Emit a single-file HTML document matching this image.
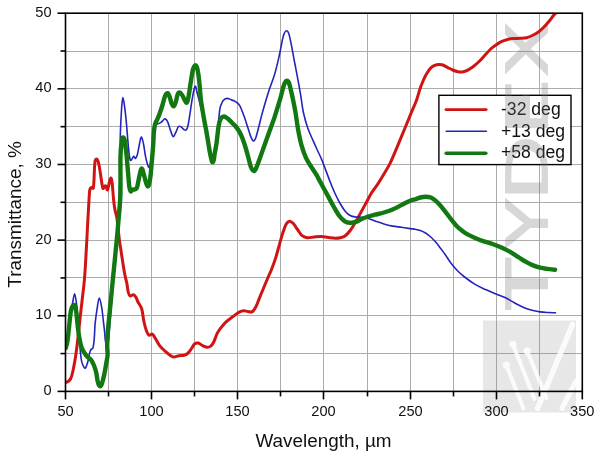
<!DOCTYPE html><html><head><meta charset="utf-8"><style>html,body{margin:0;padding:0;background:#fff;width:600px;height:456px;overflow:hidden}svg{display:block}text{font-family:"Liberation Sans",Arial,sans-serif}</style></head><body>
<svg width="600" height="456" viewBox="0 0 600 456">
<rect width="600" height="456" fill="#fff"/>
<defs><clipPath id="eclip" clipPathUnits="userSpaceOnUse"><path clip-rule="evenodd" d="M480,60H590V140H480Z M517,70H536V95H517Z"/></clipPath></defs>
<defs><clipPath id="pc"><rect x="65.50" y="13.20" width="516.80" height="378.20"/></clipPath></defs>
<g stroke="#acacac" stroke-width="1"><line x1="108.50" y1="13.20" x2="108.50" y2="391.40"/><line x1="151.50" y1="13.20" x2="151.50" y2="391.40"/><line x1="194.50" y1="13.20" x2="194.50" y2="391.40"/><line x1="237.50" y1="13.20" x2="237.50" y2="391.40"/><line x1="280.50" y1="13.20" x2="280.50" y2="391.40"/><line x1="323.50" y1="13.20" x2="323.50" y2="391.40"/><line x1="367.50" y1="13.20" x2="367.50" y2="391.40"/><line x1="410.50" y1="13.20" x2="410.50" y2="391.40"/><line x1="453.50" y1="13.20" x2="453.50" y2="391.40"/><line x1="496.50" y1="13.20" x2="496.50" y2="391.40"/><line x1="539.50" y1="13.20" x2="539.50" y2="391.40"/><line x1="65.50" y1="353.50" x2="582.30" y2="353.50"/><line x1="65.50" y1="315.50" x2="582.30" y2="315.50"/><line x1="65.50" y1="277.50" x2="582.30" y2="277.50"/><line x1="65.50" y1="240.50" x2="582.30" y2="240.50"/><line x1="65.50" y1="202.50" x2="582.30" y2="202.50"/><line x1="65.50" y1="164.50" x2="582.30" y2="164.50"/><line x1="65.50" y1="126.50" x2="582.30" y2="126.50"/><line x1="65.50" y1="88.50" x2="582.30" y2="88.50"/><line x1="65.50" y1="51.50" x2="582.30" y2="51.50"/></g>
<rect x="438.9" y="95.3" width="132.1" height="69.3" fill="#fff" stroke="#000" stroke-width="1.4"/>
<line x1="446" y1="109.6" x2="486.2" y2="109.6" stroke="#d01414" stroke-width="2.8" stroke-linecap="round"/>
<line x1="446.2" y1="131.2" x2="486.4" y2="131.2" stroke="#2424bc" stroke-width="1.6" stroke-linecap="round"/>
<line x1="446.2" y1="153.3" x2="485.8" y2="153.3" stroke="#127812" stroke-width="3.6" stroke-linecap="round"/>
<g font-size="17.6" fill="#111"><text x="501" y="115.4">-32 deg</text><text x="501" y="136.8">+13 deg</text><text x="501" y="158.2">+58 deg</text></g>
<g opacity="0.29" fill="#787878" stroke="#787878" stroke-width="3.20" stroke-linejoin="miter" font-size="100"><text transform="translate(547.06,310.53) rotate(-90) scale(0.8794,0.5903)">T</text><text transform="translate(547.06,248.45) rotate(-90) scale(0.7554,0.5903)">Y</text><text transform="translate(547.06,199.27) rotate(-90) scale(0.8748,0.5903)">D</text><g clip-path="url(#eclip)"><text transform="translate(547.06,133.21) rotate(-90) scale(0.7888,0.5903)">E</text></g><text transform="translate(547.06,75.56) rotate(-90) scale(0.7982,0.5903)">X</text><rect x="505.4" y="96" width="24.6" height="23" stroke="none"/></g><rect x="483" y="320.5" width="93" height="92" fill="#888" opacity="0.2"/><g stroke="#fff" stroke-linecap="round" fill="#fff" opacity="0.85"><line x1="572.5" y1="324.5" x2="537.5" y2="408.5" stroke-width="5.5"/><line x1="576" y1="381" x2="562" y2="408.5" stroke-width="5"/><line x1="512.9" y1="344.3" x2="534.5" y2="399.0" stroke-width="4"/><line x1="506.3" y1="365.1" x2="523.5" y2="408.5" stroke-width="4"/><line x1="527.1" y1="350.9" x2="546.5" y2="398.0" stroke-width="4"/><circle cx="512.9" cy="344.3" r="3.2"/><circle cx="527.1" cy="350.9" r="3.2"/><circle cx="506.3" cy="365.1" r="3.2"/></g>
<path clip-path="url(#pc)" d="M65.80,382.50 C66.17,382.33 67.22,382.08 68.00,381.50 C68.78,380.92 69.75,380.42 70.50,379.00 C71.25,377.58 71.87,375.50 72.50,373.00 C73.13,370.50 73.80,366.67 74.30,364.00 C74.80,361.33 75.05,360.00 75.50,357.00 C75.95,354.00 76.50,350.00 77.00,346.00 C77.50,342.00 78.05,337.00 78.50,333.00 C78.95,329.00 79.28,325.83 79.70,322.00 C80.12,318.17 80.53,314.17 81.00,310.00 C81.47,305.83 82.00,301.33 82.50,297.00 C83.00,292.67 83.58,288.17 84.00,284.00 C84.42,279.83 84.67,276.83 85.00,272.00 C85.33,267.17 85.70,260.25 86.00,255.00 C86.30,249.75 86.53,245.50 86.80,240.50 C87.07,235.50 87.37,229.42 87.60,225.00 C87.83,220.58 87.97,218.17 88.20,214.00 C88.43,209.83 88.77,203.83 89.00,200.00 C89.23,196.17 89.35,193.00 89.60,191.00 C89.85,189.00 90.10,188.58 90.50,188.00 C90.90,187.42 91.53,187.50 92.00,187.50 C92.47,187.50 92.97,189.25 93.30,188.00 C93.63,186.75 93.80,183.33 94.00,180.00 C94.20,176.67 94.30,171.25 94.50,168.00 C94.70,164.75 94.87,162.00 95.20,160.50 C95.53,159.00 96.07,159.00 96.50,159.00 C96.93,159.00 97.38,159.50 97.80,160.50 C98.22,161.50 98.55,162.75 99.00,165.00 C99.45,167.25 100.03,171.00 100.50,174.00 C100.97,177.00 101.38,180.58 101.80,183.00 C102.22,185.42 102.55,187.97 103.00,188.50 C103.45,189.03 104.00,186.57 104.50,186.20 C105.00,185.83 105.48,185.67 106.00,186.30 C106.52,186.93 107.07,190.55 107.60,190.00 C108.13,189.45 108.67,185.00 109.20,183.00 C109.73,181.00 110.33,178.17 110.80,178.00 C111.27,177.83 111.67,180.00 112.00,182.00 C112.33,184.00 112.53,187.00 112.80,190.00 C113.07,193.00 113.25,196.75 113.60,200.00 C113.95,203.25 114.37,206.60 114.90,209.50 C115.43,212.40 116.25,214.12 116.80,217.40 C117.35,220.68 117.75,225.27 118.20,229.20 C118.65,233.13 119.05,237.53 119.50,241.00 C119.95,244.47 120.33,246.30 120.90,250.00 C121.47,253.70 122.23,259.03 122.90,263.20 C123.57,267.37 124.25,271.70 124.90,275.00 C125.55,278.30 126.25,280.17 126.80,283.00 C127.35,285.83 127.65,289.83 128.20,292.00 C128.75,294.17 129.23,295.55 130.10,296.00 C130.97,296.45 132.42,294.47 133.40,294.70 C134.38,294.93 135.23,296.18 136.00,297.40 C136.77,298.62 137.05,300.10 138.00,302.00 C138.95,303.90 140.73,305.63 141.70,308.80 C142.67,311.97 143.02,317.35 143.80,321.00 C144.58,324.65 145.53,328.35 146.40,330.70 C147.27,333.05 147.98,334.52 149.00,335.10 C150.02,335.68 151.33,333.47 152.50,334.20 C153.67,334.93 154.82,337.60 156.00,339.50 C157.18,341.40 158.13,343.70 159.60,345.60 C161.07,347.50 163.05,349.28 164.80,350.90 C166.55,352.52 168.63,354.28 170.10,355.30 C171.57,356.32 172.13,356.92 173.60,357.00 C175.07,357.08 177.15,356.08 178.90,355.80 C180.65,355.52 182.65,355.68 184.10,355.30 C185.55,354.92 186.43,354.53 187.60,353.50 C188.77,352.47 189.93,350.70 191.10,349.10 C192.27,347.50 193.42,344.92 194.60,343.90 C195.78,342.88 196.88,342.72 198.20,343.00 C199.52,343.28 201.05,344.90 202.50,345.60 C203.95,346.30 205.58,347.07 206.90,347.20 C208.22,347.33 209.30,347.18 210.40,346.40 C211.50,345.62 212.35,344.70 213.50,342.50 C214.65,340.30 216.08,335.63 217.30,333.20 C218.52,330.77 219.33,329.80 220.80,327.90 C222.27,326.00 224.05,323.70 226.10,321.80 C228.15,319.90 230.92,318.12 233.10,316.50 C235.28,314.88 237.45,313.07 239.20,312.10 C240.95,311.13 242.13,310.78 243.60,310.70 C245.07,310.62 246.53,311.45 248.00,311.60 C249.47,311.75 251.08,312.40 252.40,311.60 C253.72,310.80 254.73,309.05 255.90,306.80 C257.07,304.55 258.08,301.32 259.40,298.10 C260.72,294.88 262.33,291.02 263.80,287.50 C265.27,283.98 266.92,280.00 268.20,277.00 C269.48,274.00 270.28,272.60 271.50,269.50 C272.72,266.40 274.25,262.30 275.50,258.40 C276.75,254.50 277.83,250.18 279.00,246.10 C280.17,242.02 281.32,237.55 282.50,233.90 C283.68,230.25 284.92,226.32 286.10,224.20 C287.28,222.08 288.43,221.35 289.60,221.20 C290.77,221.05 291.78,221.92 293.10,223.30 C294.42,224.68 296.05,227.50 297.50,229.50 C298.95,231.50 300.20,233.93 301.80,235.30 C303.40,236.67 305.05,237.42 307.10,237.70 C309.15,237.98 311.77,237.20 314.10,237.00 C316.43,236.80 318.75,236.43 321.10,236.50 C323.45,236.57 325.85,237.12 328.20,237.40 C330.55,237.68 333.17,238.15 335.20,238.20 C337.23,238.25 338.77,238.07 340.40,237.70 C342.03,237.33 343.30,237.28 345.00,236.00 C346.70,234.72 348.80,232.42 350.60,230.00 C352.40,227.58 354.05,224.50 355.80,221.50 C357.55,218.50 359.35,215.17 361.10,212.00 C362.85,208.83 364.55,205.70 366.30,202.50 C368.05,199.30 369.72,195.83 371.60,192.80 C373.48,189.77 375.67,187.22 377.60,184.30 C379.53,181.38 381.07,178.92 383.20,175.30 C385.33,171.68 388.07,167.35 390.40,162.60 C392.73,157.85 394.77,152.57 397.20,146.80 C399.63,141.03 402.65,133.70 405.00,128.00 C407.35,122.30 409.37,117.27 411.30,112.60 C413.23,107.93 415.03,104.32 416.60,100.00 C418.17,95.68 419.13,90.92 420.70,86.70 C422.27,82.48 424.23,77.93 426.00,74.70 C427.77,71.47 429.52,68.97 431.30,67.30 C433.08,65.63 434.92,65.13 436.70,64.70 C438.48,64.27 440.23,64.27 442.00,64.70 C443.77,65.13 445.52,66.42 447.30,67.30 C449.08,68.18 450.92,69.27 452.70,70.00 C454.48,70.73 456.23,71.42 458.00,71.70 C459.77,71.98 461.52,72.05 463.30,71.70 C465.08,71.35 466.92,70.55 468.70,69.60 C470.48,68.65 472.23,67.38 474.00,66.00 C475.77,64.62 477.52,63.05 479.30,61.30 C481.08,59.55 482.80,57.55 484.70,55.50 C486.60,53.45 488.82,50.75 490.70,49.00 C492.58,47.25 494.23,46.22 496.00,45.00 C497.77,43.78 499.52,42.58 501.30,41.70 C503.08,40.82 504.70,40.22 506.70,39.70 C508.70,39.18 511.08,38.83 513.30,38.60 C515.52,38.37 517.77,38.45 520.00,38.30 C522.23,38.15 524.48,38.25 526.70,37.70 C528.92,37.15 531.30,36.00 533.30,35.00 C535.30,34.00 536.92,33.03 538.70,31.70 C540.48,30.37 542.23,28.78 544.00,27.00 C545.77,25.22 547.75,22.88 549.30,21.00 C550.85,19.12 552.27,16.95 553.30,15.70 C554.33,14.45 555.13,13.87 555.50,13.50" fill="none" stroke="#d01414" stroke-width="3" stroke-linejoin="round" stroke-linecap="round"/>
<path clip-path="url(#pc)" d="M66.00,345.00 C66.33,343.00 67.33,337.50 68.00,333.00 C68.67,328.50 69.23,323.00 70.00,318.00 C70.77,313.00 71.83,307.05 72.60,303.00 C73.37,298.95 73.97,293.70 74.60,293.70 C75.23,293.70 75.92,299.45 76.40,303.00 C76.88,306.55 77.07,309.67 77.50,315.00 C77.93,320.33 78.48,328.50 79.00,335.00 C79.52,341.50 80.15,349.57 80.60,354.00 C81.05,358.43 81.15,359.42 81.70,361.60 C82.25,363.78 83.27,366.03 83.90,367.10 C84.53,368.17 85.02,368.35 85.50,368.00 C85.98,367.65 86.33,366.33 86.80,365.00 C87.27,363.67 87.85,361.92 88.30,360.00 C88.75,358.08 89.05,355.25 89.50,353.50 C89.95,351.75 90.43,350.42 91.00,349.50 C91.57,348.58 92.40,349.35 92.90,348.00 C93.40,346.65 93.72,343.90 94.00,341.40 C94.28,338.90 94.42,335.92 94.60,333.00 C94.78,330.08 94.65,328.17 95.10,323.90 C95.55,319.63 96.60,311.70 97.30,307.40 C98.00,303.10 98.57,298.10 99.30,298.10 C100.03,298.10 101.03,303.65 101.70,307.40 C102.37,311.15 102.85,316.83 103.30,320.60 C103.75,324.37 104.03,326.53 104.40,330.00 C104.77,333.47 105.07,338.73 105.50,341.40 C105.93,344.07 106.50,346.23 107.00,346.00 C107.50,345.77 107.92,345.17 108.50,340.00 C109.08,334.83 109.82,323.33 110.50,315.00 C111.18,306.67 111.85,299.17 112.60,290.00 C113.35,280.83 114.27,269.67 115.00,260.00 C115.73,250.33 116.42,240.33 117.00,232.00 C117.58,223.67 118.03,218.67 118.50,210.00 C118.97,201.33 119.50,190.00 119.80,180.00 C120.10,170.00 120.22,157.33 120.30,150.00 C120.38,142.67 120.22,140.52 120.30,136.00 C120.38,131.48 120.55,127.93 120.80,122.90 C121.05,117.87 121.45,110.02 121.80,105.80 C122.15,101.58 122.45,97.60 122.90,97.60 C123.35,97.60 123.92,101.58 124.50,105.80 C125.08,110.02 125.85,117.20 126.40,122.90 C126.95,128.60 127.35,134.87 127.80,140.00 C128.25,145.13 128.67,150.32 129.10,153.70 C129.53,157.08 129.85,159.53 130.40,160.30 C130.95,161.07 131.85,158.97 132.40,158.30 C132.95,157.63 133.15,156.30 133.70,156.30 C134.25,156.30 135.05,158.73 135.70,158.30 C136.35,157.87 136.95,156.22 137.60,153.70 C138.25,151.18 138.95,145.98 139.60,143.20 C140.25,140.42 140.83,136.78 141.50,137.00 C142.17,137.22 142.93,141.28 143.60,144.50 C144.27,147.72 144.85,153.02 145.50,156.30 C146.15,159.58 146.88,162.38 147.50,164.20 C148.12,166.02 148.62,167.90 149.20,167.20 C149.78,166.50 150.45,163.70 151.00,160.00 C151.55,156.30 152.08,150.00 152.50,145.00 C152.92,140.00 153.17,133.50 153.50,130.00 C153.83,126.50 153.75,125.03 154.50,124.00 C155.25,122.97 156.92,124.08 158.00,123.80 C159.08,123.52 160.08,122.93 161.00,122.30 C161.92,121.67 162.82,120.58 163.50,120.00 C164.18,119.42 164.38,118.45 165.10,118.80 C165.82,119.15 166.92,120.23 167.80,122.10 C168.68,123.97 169.53,127.58 170.40,130.00 C171.27,132.42 172.12,136.17 173.00,136.60 C173.88,137.03 174.82,134.25 175.70,132.60 C176.58,130.95 177.43,127.68 178.30,126.70 C179.17,125.72 180.02,126.27 180.90,126.70 C181.78,127.13 182.72,128.75 183.60,129.30 C184.48,129.85 185.43,130.77 186.20,130.00 C186.97,129.23 187.55,127.55 188.20,124.70 C188.85,121.85 189.45,117.07 190.10,112.90 C190.75,108.73 191.43,103.65 192.10,99.70 C192.77,95.75 193.52,91.43 194.10,89.20 C194.68,86.97 195.15,85.92 195.60,86.30 C196.05,86.68 196.27,89.38 196.80,91.50 C197.33,93.62 198.10,96.25 198.80,99.00 C199.50,101.75 200.27,104.83 201.00,108.00 C201.73,111.17 202.45,114.50 203.20,118.00 C203.95,121.50 204.70,125.17 205.50,129.00 C206.30,132.83 207.17,137.00 208.00,141.00 C208.83,145.00 209.75,150.17 210.50,153.00 C211.25,155.83 211.78,158.50 212.50,158.00 C213.22,157.50 214.05,154.00 214.80,150.00 C215.55,146.00 216.38,138.83 217.00,134.00 C217.62,129.17 218.07,124.82 218.50,121.00 C218.93,117.18 219.27,113.55 219.60,111.10 C219.93,108.65 219.90,108.08 220.50,106.30 C221.10,104.52 222.10,101.72 223.20,100.40 C224.30,99.08 225.80,98.52 227.10,98.40 C228.40,98.28 229.53,99.13 231.00,99.70 C232.47,100.27 234.42,100.78 235.90,101.80 C237.38,102.82 238.58,103.50 239.90,105.80 C241.22,108.10 242.48,111.98 243.80,115.60 C245.12,119.22 246.65,124.03 247.80,127.50 C248.95,130.97 249.78,134.17 250.70,136.40 C251.62,138.63 252.48,140.58 253.30,140.90 C254.12,141.22 254.72,140.53 255.60,138.30 C256.48,136.07 257.60,131.28 258.60,127.50 C259.60,123.72 260.45,119.88 261.60,115.60 C262.75,111.32 264.35,105.73 265.50,101.80 C266.65,97.87 267.70,94.52 268.50,92.00 C269.30,89.48 269.28,89.63 270.30,86.70 C271.32,83.77 273.28,78.78 274.60,74.40 C275.92,70.02 277.17,64.78 278.20,60.40 C279.23,56.02 279.93,52.20 280.80,48.10 C281.67,44.00 282.52,38.67 283.40,35.80 C284.28,32.93 285.22,31.33 286.10,30.90 C286.98,30.47 287.83,30.92 288.70,33.20 C289.57,35.48 290.43,40.37 291.30,44.60 C292.17,48.83 293.02,53.93 293.90,58.60 C294.78,63.27 295.72,67.92 296.60,72.60 C297.48,77.28 298.47,82.60 299.20,86.70 C299.93,90.80 300.30,92.90 301.00,97.20 C301.70,101.50 302.27,107.32 303.40,112.50 C304.53,117.68 306.18,123.62 307.80,128.30 C309.42,132.98 311.52,136.98 313.10,140.60 C314.68,144.22 315.87,146.83 317.30,150.00 C318.73,153.17 320.23,156.08 321.70,159.60 C323.17,163.12 324.65,167.28 326.10,171.10 C327.55,174.92 328.95,178.85 330.40,182.50 C331.85,186.15 333.18,189.50 334.80,193.00 C336.42,196.50 338.33,200.43 340.10,203.50 C341.87,206.57 343.65,209.35 345.40,211.40 C347.15,213.45 348.85,214.87 350.60,215.80 C352.35,216.73 354.15,216.77 355.90,217.00 C357.65,217.23 359.37,217.08 361.10,217.20 C362.83,217.32 363.97,217.08 366.30,217.70 C368.63,218.32 372.17,219.85 375.10,220.90 C378.03,221.95 380.98,223.13 383.90,224.00 C386.82,224.87 389.68,225.55 392.60,226.10 C395.52,226.65 398.47,226.88 401.40,227.30 C404.33,227.72 407.93,228.28 410.20,228.60 C412.47,228.92 413.32,228.88 415.00,229.20 C416.68,229.52 418.55,229.87 420.30,230.50 C422.05,231.13 423.75,231.92 425.50,233.00 C427.25,234.08 429.03,235.40 430.80,237.00 C432.57,238.60 434.35,240.55 436.10,242.60 C437.85,244.65 439.73,247.23 441.30,249.30 C442.87,251.37 443.97,252.80 445.50,255.00 C447.03,257.20 448.50,259.87 450.50,262.50 C452.50,265.13 455.15,268.38 457.50,270.80 C459.85,273.22 461.67,274.73 464.60,277.00 C467.53,279.27 471.60,282.30 475.10,284.40 C478.60,286.50 482.10,288.00 485.60,289.60 C489.10,291.20 492.87,292.68 496.10,294.00 C499.33,295.32 502.35,296.27 505.00,297.50 C507.65,298.73 509.67,300.10 512.00,301.40 C514.33,302.70 516.65,304.13 519.00,305.30 C521.35,306.47 523.75,307.53 526.10,308.40 C528.45,309.27 530.77,309.92 533.10,310.50 C535.43,311.08 537.77,311.57 540.10,311.90 C542.43,312.23 544.53,312.35 547.10,312.50 C549.67,312.65 554.10,312.75 555.50,312.80" fill="none" stroke="#2424bc" stroke-width="1.6" stroke-linejoin="round" stroke-linecap="round"/>
<path clip-path="url(#pc)" d="M65.80,348.00 C66.05,347.00 66.83,344.75 67.30,342.00 C67.77,339.25 68.17,335.33 68.60,331.50 C69.03,327.67 69.47,322.67 69.90,319.00 C70.33,315.33 70.65,311.78 71.20,309.50 C71.75,307.22 72.53,305.88 73.20,305.30 C73.87,304.72 74.65,304.55 75.20,306.00 C75.75,307.45 76.07,310.50 76.50,314.00 C76.93,317.50 77.30,322.83 77.80,327.00 C78.30,331.17 78.90,335.67 79.50,339.00 C80.10,342.33 80.63,344.77 81.40,347.00 C82.17,349.23 83.13,350.77 84.10,352.40 C85.07,354.03 86.02,355.53 87.20,356.80 C88.38,358.07 90.07,358.55 91.20,360.00 C92.33,361.45 93.17,363.42 94.00,365.50 C94.83,367.58 95.60,369.92 96.20,372.50 C96.80,375.08 97.08,378.78 97.60,381.00 C98.12,383.22 98.72,385.03 99.30,385.80 C99.88,386.57 100.50,386.53 101.10,385.60 C101.70,384.67 102.25,382.67 102.90,380.20 C103.55,377.73 104.43,373.68 105.00,370.80 C105.57,367.92 105.87,365.53 106.30,362.90 C106.73,360.27 107.45,357.98 107.60,355.00 C107.75,352.02 107.13,349.17 107.20,345.00 C107.27,340.83 107.55,335.83 108.00,330.00 C108.45,324.17 109.20,317.28 109.90,310.00 C110.60,302.72 111.55,292.97 112.20,286.30 C112.85,279.63 113.37,274.38 113.80,270.00 C114.23,265.62 114.43,263.73 114.80,260.00 C115.17,256.27 115.58,251.85 116.00,247.60 C116.42,243.35 116.90,238.88 117.30,234.50 C117.70,230.12 118.02,225.72 118.40,221.30 C118.78,216.88 119.27,212.38 119.60,208.00 C119.93,203.62 120.25,199.67 120.40,195.00 C120.55,190.33 120.48,186.45 120.50,180.00 C120.52,173.55 120.28,162.88 120.50,156.30 C120.72,149.72 121.35,143.63 121.80,140.50 C122.25,137.37 122.72,137.50 123.20,137.50 C123.68,137.50 124.17,137.80 124.70,140.50 C125.23,143.20 125.85,148.45 126.40,153.70 C126.95,158.95 127.52,166.53 128.00,172.00 C128.48,177.47 128.85,183.28 129.30,186.50 C129.75,189.72 130.15,190.80 130.70,191.30 C131.25,191.80 131.85,189.83 132.60,189.50 C133.35,189.17 134.45,189.67 135.20,189.30 C135.95,188.93 136.52,188.93 137.10,187.30 C137.68,185.67 138.08,182.38 138.70,179.50 C139.32,176.62 140.18,171.72 140.80,170.00 C141.42,168.28 141.80,168.12 142.40,169.20 C143.00,170.28 143.70,173.95 144.40,176.50 C145.10,179.05 145.92,182.92 146.60,184.50 C147.28,186.08 147.88,187.17 148.50,186.00 C149.12,184.83 149.78,181.10 150.30,177.50 C150.82,173.90 151.12,169.82 151.60,164.40 C152.08,158.98 152.83,150.23 153.20,145.00 C153.57,139.77 153.50,136.42 153.80,133.00 C154.10,129.58 154.43,126.75 155.00,124.50 C155.57,122.25 156.45,121.25 157.20,119.50 C157.95,117.75 158.62,116.42 159.50,114.00 C160.38,111.58 161.57,108.03 162.50,105.00 C163.43,101.97 164.22,97.77 165.10,95.80 C165.98,93.83 167.03,92.98 167.80,93.20 C168.57,93.42 169.05,95.35 169.70,97.10 C170.35,98.85 171.03,102.17 171.70,103.70 C172.37,105.23 173.03,106.52 173.70,106.30 C174.37,106.08 175.05,104.37 175.70,102.40 C176.35,100.43 176.95,96.15 177.60,94.50 C178.25,92.85 178.83,92.40 179.60,92.50 C180.37,92.60 181.32,93.77 182.20,95.10 C183.08,96.43 184.10,99.28 184.90,100.50 C185.70,101.72 186.33,103.40 187.00,102.40 C187.67,101.40 188.25,98.02 188.90,94.50 C189.55,90.98 190.23,85.47 190.90,81.30 C191.57,77.13 192.23,72.13 192.90,69.50 C193.57,66.87 194.25,65.95 194.90,65.50 C195.55,65.05 196.25,65.48 196.80,66.80 C197.35,68.12 197.75,70.55 198.20,73.40 C198.65,76.25 199.07,79.63 199.50,83.90 C199.93,88.17 200.30,94.65 200.80,99.00 C201.30,103.35 201.93,106.50 202.50,110.00 C203.07,113.50 203.57,116.50 204.20,120.00 C204.83,123.50 205.67,127.50 206.30,131.00 C206.93,134.50 207.42,137.50 208.00,141.00 C208.58,144.50 209.13,148.58 209.80,152.00 C210.47,155.42 211.37,160.08 212.00,161.50 C212.63,162.92 213.13,161.92 213.60,160.50 C214.07,159.08 214.32,155.85 214.80,153.00 C215.28,150.15 215.83,148.07 216.50,143.40 C217.17,138.73 218.03,129.22 218.80,125.00 C219.57,120.78 220.20,119.52 221.10,118.10 C222.00,116.68 223.05,116.38 224.20,116.50 C225.35,116.62 226.72,117.77 228.00,118.80 C229.28,119.83 230.62,121.42 231.90,122.70 C233.18,123.98 234.43,124.97 235.70,126.50 C236.97,128.03 238.35,129.85 239.50,131.90 C240.65,133.95 241.57,136.12 242.60,138.80 C243.63,141.48 244.68,144.63 245.70,148.00 C246.72,151.37 247.82,155.78 248.70,159.00 C249.58,162.22 250.25,165.37 251.00,167.30 C251.75,169.23 252.47,170.18 253.20,170.60 C253.93,171.02 254.33,171.73 255.40,169.80 C256.47,167.87 258.08,163.10 259.60,159.00 C261.12,154.90 262.87,149.80 264.50,145.20 C266.13,140.60 267.75,136.00 269.40,131.40 C271.05,126.80 272.75,122.53 274.40,117.60 C276.05,112.67 278.20,105.40 279.30,101.80 C280.40,98.20 280.32,98.52 281.00,96.00 C281.68,93.48 282.55,89.20 283.40,86.70 C284.25,84.20 285.22,81.73 286.10,81.00 C286.98,80.27 287.83,80.48 288.70,82.30 C289.57,84.12 290.57,88.95 291.30,91.90 C292.03,94.85 292.40,96.57 293.10,100.00 C293.80,103.43 294.65,107.48 295.50,112.50 C296.35,117.52 297.17,124.53 298.20,130.10 C299.23,135.67 300.38,141.22 301.70,145.90 C303.02,150.58 304.50,154.70 306.10,158.20 C307.70,161.70 309.55,164.10 311.30,166.90 C313.05,169.70 315.45,173.13 316.60,175.00 C317.75,176.87 317.07,175.98 318.20,178.10 C319.33,180.22 321.65,184.48 323.40,187.70 C325.15,190.92 326.95,194.18 328.70,197.40 C330.45,200.62 332.15,203.93 333.90,207.00 C335.65,210.07 337.43,213.45 339.20,215.80 C340.97,218.15 342.75,219.93 344.50,221.10 C346.25,222.27 347.80,222.67 349.70,222.80 C351.60,222.93 354.00,222.48 355.90,221.90 C357.80,221.32 359.07,220.20 361.10,219.30 C363.13,218.40 365.77,217.27 368.10,216.50 C370.43,215.73 372.47,215.37 375.10,214.70 C377.73,214.03 380.98,213.37 383.90,212.50 C386.82,211.63 389.68,210.73 392.60,209.50 C395.52,208.27 398.47,206.57 401.40,205.10 C404.33,203.63 407.93,201.67 410.20,200.70 C412.47,199.73 413.32,199.83 415.00,199.30 C416.68,198.77 418.55,197.93 420.30,197.50 C422.05,197.07 423.75,196.70 425.50,196.70 C427.25,196.70 429.03,196.77 430.80,197.50 C432.57,198.23 434.35,199.58 436.10,201.10 C437.85,202.62 439.55,204.55 441.30,206.60 C443.05,208.65 444.85,211.13 446.60,213.40 C448.35,215.67 450.05,218.02 451.80,220.20 C453.55,222.38 455.33,224.72 457.10,226.50 C458.87,228.28 460.65,229.58 462.40,230.90 C464.15,232.22 465.48,233.23 467.60,234.40 C469.72,235.57 472.38,236.73 475.10,237.90 C477.82,239.07 480.98,240.38 483.90,241.40 C486.82,242.42 489.68,242.98 492.60,244.00 C495.52,245.02 498.47,246.18 501.40,247.50 C504.33,248.82 507.27,250.23 510.20,251.90 C513.13,253.57 516.35,255.83 519.00,257.50 C521.65,259.17 523.75,260.58 526.10,261.90 C528.45,263.22 530.77,264.43 533.10,265.40 C535.43,266.37 537.77,267.12 540.10,267.70 C542.43,268.28 544.62,268.55 547.10,268.90 C549.58,269.25 553.68,269.65 555.00,269.80" fill="none" stroke="#127812" stroke-width="4.4" stroke-linejoin="round" stroke-linecap="round"/>
<rect x="65.50" y="13.20" width="516.80" height="378.20" fill="none" stroke="#000" stroke-width="1.6"/>
<g stroke="#000" stroke-width="1.6"><line x1="65.50" y1="391.40" x2="65.50" y2="399.40"/><line x1="108.50" y1="391.40" x2="108.50" y2="396.40"/><line x1="151.50" y1="391.40" x2="151.50" y2="399.40"/><line x1="194.50" y1="391.40" x2="194.50" y2="396.40"/><line x1="237.50" y1="391.40" x2="237.50" y2="399.40"/><line x1="280.50" y1="391.40" x2="280.50" y2="396.40"/><line x1="323.50" y1="391.40" x2="323.50" y2="399.40"/><line x1="367.50" y1="391.40" x2="367.50" y2="396.40"/><line x1="410.50" y1="391.40" x2="410.50" y2="399.40"/><line x1="453.50" y1="391.40" x2="453.50" y2="396.40"/><line x1="496.50" y1="391.40" x2="496.50" y2="399.40"/><line x1="539.50" y1="391.40" x2="539.50" y2="396.40"/><line x1="582.30" y1="391.40" x2="582.30" y2="399.40"/><line x1="57.50" y1="391.40" x2="65.50" y2="391.40"/><line x1="60.50" y1="353.58" x2="65.50" y2="353.58"/><line x1="57.50" y1="315.76" x2="65.50" y2="315.76"/><line x1="60.50" y1="277.94" x2="65.50" y2="277.94"/><line x1="57.50" y1="240.12" x2="65.50" y2="240.12"/><line x1="60.50" y1="202.30" x2="65.50" y2="202.30"/><line x1="57.50" y1="164.48" x2="65.50" y2="164.48"/><line x1="60.50" y1="126.66" x2="65.50" y2="126.66"/><line x1="57.50" y1="88.84" x2="65.50" y2="88.84"/><line x1="60.50" y1="51.02" x2="65.50" y2="51.02"/><line x1="57.50" y1="13.20" x2="65.50" y2="13.20"/></g>
<g font-size="14.6" fill="#111"><text x="65.50" y="415.6" text-anchor="middle">50</text><text x="151.50" y="415.6" text-anchor="middle">100</text><text x="237.50" y="415.6" text-anchor="middle">150</text><text x="323.50" y="415.6" text-anchor="middle">200</text><text x="410.50" y="415.6" text-anchor="middle">250</text><text x="496.50" y="415.6" text-anchor="middle">300</text><text x="582.30" y="415.6" text-anchor="middle">350</text><text x="51.5" y="395.00" text-anchor="end">0</text><text x="51.5" y="319.36" text-anchor="end">10</text><text x="51.5" y="243.72" text-anchor="end">20</text><text x="51.5" y="168.08" text-anchor="end">30</text><text x="51.5" y="92.44" text-anchor="end">40</text><text x="51.5" y="16.80" text-anchor="end">50</text></g>
<text x="323.5" y="446.5" font-size="18.9" text-anchor="middle" fill="#111">Wavelength, µm</text>
<text transform="translate(21,214.4) rotate(-90)" x="0" y="0" font-size="18.95" text-anchor="middle" fill="#111">Transmittance, %</text>
</svg></body></html>
